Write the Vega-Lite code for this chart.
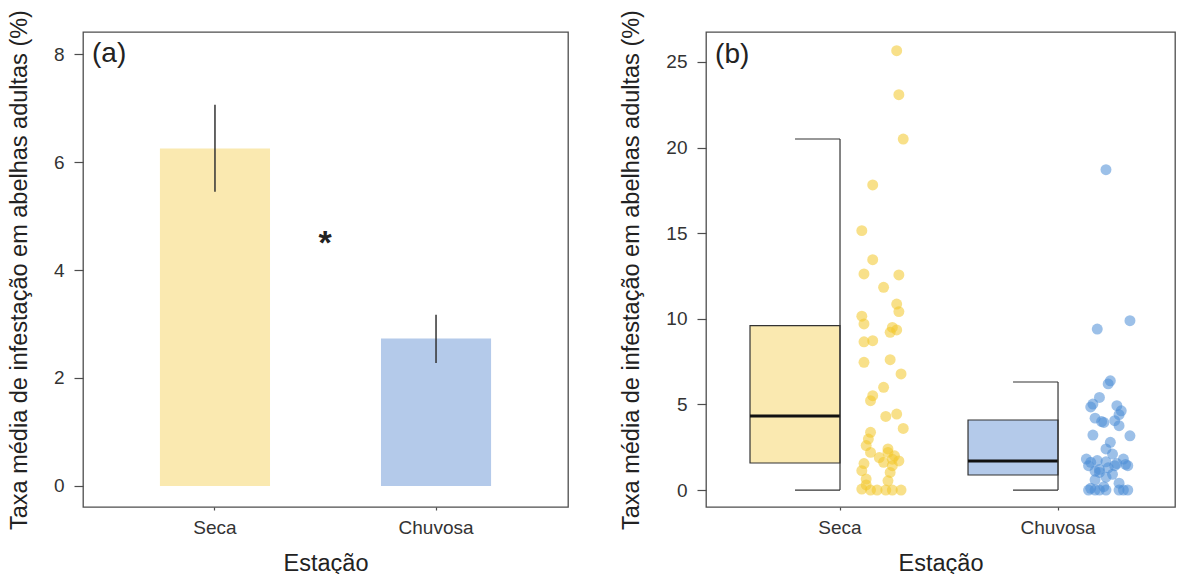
{
  "$schema": "https://vega.github.io/schema/vega-lite/v6.json",
  "background": "white",
  "padding": {"left": 6, "top": 8, "right": 0, "bottom": 0},
  "autosize": {"type": "pad"},
  "config": {
    "font": "Liberation Sans",
    "view": {"stroke": "#4d4d4d", "strokeWidth": 1.3},
    "axis": {"grid": false, "domain": false, "tickColor": "#4d4d4d", "tickWidth": 1.2,
      "labelFont": "Liberation Sans", "labelFontSize": 19, "labelColor": "#333333",
      "titleFont": "Liberation Sans", "titleFontSize": 23.5, "titleFontWeight": "normal", "titleColor": "#222222"},
    "axisY": {"tickSize": 9, "labelPadding": 10, "titlePadding": 22},
    "axisX": {"tickSize": 3, "labelPadding": 8, "titlePadding": 14, "labelAngle": 0},
    "concat": {"spacing": 50}
  },
  "datasets": {
    "medias": [
      {"estacao": "Seca", "media": 6.25, "ep_inf": 5.45, "ep_sup": 7.06},
      {"estacao": "Chuvosa", "media": 2.73, "ep_inf": 2.28, "ep_sup": 3.17}
    ],
    "caixas": [
      {"estacao": "Seca", "inferior": 0, "q1": 1.58, "mediana": 4.32, "q3": 9.6, "superior": 20.5},
      {"estacao": "Chuvosa", "inferior": 0, "q1": 0.88, "mediana": 1.69, "q3": 4.09, "superior": 6.31}
    ],
    "pontos": [
      {"estacao": "Seca", "taxa": 25.66, "jitter": 0.26},
      {"estacao": "Seca", "taxa": 23.09, "jitter": 0.27},
      {"estacao": "Seca", "taxa": 20.5, "jitter": 0.29},
      {"estacao": "Seca", "taxa": 17.82, "jitter": 0.15},
      {"estacao": "Seca", "taxa": 15.15, "jitter": 0.1},
      {"estacao": "Seca", "taxa": 13.45, "jitter": 0.15},
      {"estacao": "Seca", "taxa": 12.62, "jitter": 0.11},
      {"estacao": "Seca", "taxa": 12.56, "jitter": 0.27},
      {"estacao": "Seca", "taxa": 11.84, "jitter": 0.2},
      {"estacao": "Seca", "taxa": 10.86, "jitter": 0.26},
      {"estacao": "Seca", "taxa": 10.42, "jitter": 0.27},
      {"estacao": "Seca", "taxa": 10.15, "jitter": 0.1},
      {"estacao": "Seca", "taxa": 9.7, "jitter": 0.11},
      {"estacao": "Seca", "taxa": 9.5, "jitter": 0.24},
      {"estacao": "Seca", "taxa": 9.35, "jitter": 0.26},
      {"estacao": "Seca", "taxa": 9.21, "jitter": 0.23},
      {"estacao": "Seca", "taxa": 8.72, "jitter": 0.15},
      {"estacao": "Seca", "taxa": 8.66, "jitter": 0.11},
      {"estacao": "Seca", "taxa": 7.61, "jitter": 0.23},
      {"estacao": "Seca", "taxa": 7.46, "jitter": 0.11},
      {"estacao": "Seca", "taxa": 6.78, "jitter": 0.28},
      {"estacao": "Seca", "taxa": 6.0, "jitter": 0.2},
      {"estacao": "Seca", "taxa": 5.51, "jitter": 0.15},
      {"estacao": "Seca", "taxa": 5.22, "jitter": 0.14},
      {"estacao": "Seca", "taxa": 4.44, "jitter": 0.26},
      {"estacao": "Seca", "taxa": 4.3, "jitter": 0.21},
      {"estacao": "Seca", "taxa": 3.6, "jitter": 0.29},
      {"estacao": "Seca", "taxa": 3.37, "jitter": 0.14},
      {"estacao": "Seca", "taxa": 2.98, "jitter": 0.13},
      {"estacao": "Seca", "taxa": 2.6, "jitter": 0.12},
      {"estacao": "Seca", "taxa": 2.4, "jitter": 0.22},
      {"estacao": "Seca", "taxa": 2.2, "jitter": 0.14},
      {"estacao": "Seca", "taxa": 2.2, "jitter": 0.22},
      {"estacao": "Seca", "taxa": 2.0, "jitter": 0.25},
      {"estacao": "Seca", "taxa": 1.9, "jitter": 0.18},
      {"estacao": "Seca", "taxa": 1.8, "jitter": 0.24},
      {"estacao": "Seca", "taxa": 1.7, "jitter": 0.27},
      {"estacao": "Seca", "taxa": 1.62, "jitter": 0.2},
      {"estacao": "Seca", "taxa": 1.55, "jitter": 0.11},
      {"estacao": "Seca", "taxa": 1.42, "jitter": 0.24},
      {"estacao": "Seca", "taxa": 1.13, "jitter": 0.1},
      {"estacao": "Seca", "taxa": 1.03, "jitter": 0.23},
      {"estacao": "Seca", "taxa": 0.64, "jitter": 0.12},
      {"estacao": "Seca", "taxa": 0.54, "jitter": 0.22},
      {"estacao": "Seca", "taxa": 0.3, "jitter": 0.12},
      {"estacao": "Seca", "taxa": 0.06, "jitter": 0.1},
      {"estacao": "Seca", "taxa": 0, "jitter": 0.14},
      {"estacao": "Seca", "taxa": 0, "jitter": 0.17},
      {"estacao": "Seca", "taxa": 0, "jitter": 0.21},
      {"estacao": "Seca", "taxa": 0, "jitter": 0.24},
      {"estacao": "Seca", "taxa": 0, "jitter": 0.28},
      {"estacao": "Chuvosa", "taxa": 18.71, "jitter": 0.22},
      {"estacao": "Chuvosa", "taxa": 9.89, "jitter": 0.33},
      {"estacao": "Chuvosa", "taxa": 9.4, "jitter": 0.18},
      {"estacao": "Chuvosa", "taxa": 6.38, "jitter": 0.24},
      {"estacao": "Chuvosa", "taxa": 6.2, "jitter": 0.23},
      {"estacao": "Chuvosa", "taxa": 5.41, "jitter": 0.19},
      {"estacao": "Chuvosa", "taxa": 5.02, "jitter": 0.16},
      {"estacao": "Chuvosa", "taxa": 4.93, "jitter": 0.27},
      {"estacao": "Chuvosa", "taxa": 4.85, "jitter": 0.15},
      {"estacao": "Chuvosa", "taxa": 4.63, "jitter": 0.29},
      {"estacao": "Chuvosa", "taxa": 4.4, "jitter": 0.28},
      {"estacao": "Chuvosa", "taxa": 4.2, "jitter": 0.17},
      {"estacao": "Chuvosa", "taxa": 4.05, "jitter": 0.26},
      {"estacao": "Chuvosa", "taxa": 4.0, "jitter": 0.2},
      {"estacao": "Chuvosa", "taxa": 3.95, "jitter": 0.21},
      {"estacao": "Chuvosa", "taxa": 3.76, "jitter": 0.28},
      {"estacao": "Chuvosa", "taxa": 3.21, "jitter": 0.16},
      {"estacao": "Chuvosa", "taxa": 3.17, "jitter": 0.33},
      {"estacao": "Chuvosa", "taxa": 2.79, "jitter": 0.24},
      {"estacao": "Chuvosa", "taxa": 2.4, "jitter": 0.22},
      {"estacao": "Chuvosa", "taxa": 2.1, "jitter": 0.25},
      {"estacao": "Chuvosa", "taxa": 1.81, "jitter": 0.13},
      {"estacao": "Chuvosa", "taxa": 1.81, "jitter": 0.3},
      {"estacao": "Chuvosa", "taxa": 1.72, "jitter": 0.18},
      {"estacao": "Chuvosa", "taxa": 1.65, "jitter": 0.22},
      {"estacao": "Chuvosa", "taxa": 1.62, "jitter": 0.15},
      {"estacao": "Chuvosa", "taxa": 1.55, "jitter": 0.27},
      {"estacao": "Chuvosa", "taxa": 1.5, "jitter": 0.31},
      {"estacao": "Chuvosa", "taxa": 1.42, "jitter": 0.14},
      {"estacao": "Chuvosa", "taxa": 1.42, "jitter": 0.26},
      {"estacao": "Chuvosa", "taxa": 1.42, "jitter": 0.32},
      {"estacao": "Chuvosa", "taxa": 1.3, "jitter": 0.23},
      {"estacao": "Chuvosa", "taxa": 1.2, "jitter": 0.19},
      {"estacao": "Chuvosa", "taxa": 1.1, "jitter": 0.17},
      {"estacao": "Chuvosa", "taxa": 1.03, "jitter": 0.19},
      {"estacao": "Chuvosa", "taxa": 0.92, "jitter": 0.25},
      {"estacao": "Chuvosa", "taxa": 0.75, "jitter": 0.22},
      {"estacao": "Chuvosa", "taxa": 0.6, "jitter": 0.17},
      {"estacao": "Chuvosa", "taxa": 0.4, "jitter": 0.28},
      {"estacao": "Chuvosa", "taxa": 0.2, "jitter": 0.21},
      {"estacao": "Chuvosa", "taxa": 0.1, "jitter": 0.15},
      {"estacao": "Chuvosa", "taxa": 0, "jitter": 0.14},
      {"estacao": "Chuvosa", "taxa": 0, "jitter": 0.17},
      {"estacao": "Chuvosa", "taxa": 0, "jitter": 0.19},
      {"estacao": "Chuvosa", "taxa": 0, "jitter": 0.22},
      {"estacao": "Chuvosa", "taxa": 0, "jitter": 0.28},
      {"estacao": "Chuvosa", "taxa": 0, "jitter": 0.3},
      {"estacao": "Chuvosa", "taxa": 0, "jitter": 0.32}
    ]
  },
  "hconcat": [
    {
      "width": 485,
      "height": 475,
      "encoding": {
        "x": {"field": "estacao", "type": "nominal", "title": "Estação",
          "scale": {"type": "band", "domain": ["Seca", "Chuvosa"], "paddingInner": 0.502, "paddingOuter": 0.348}}
      },
      "layer": [
        {
          "data": {"name": "medias"},
          "mark": {"type": "rect"},
          "encoding": {
            "x": {"field": "estacao", "type": "nominal", "bandPosition": 0},
            "x2": {"field": "estacao", "bandPosition": 1},
            "y": {"field": "media", "type": "quantitative", "title": "Taxa média de infestação em abelhas adultas (%)",
              "scale": {"domain": [-0.39, 8.41], "nice": false, "zero": false},
              "axis": {"values": [0, 2, 4, 6, 8]}},
            "y2": {"datum": 0},
            "fill": {"field": "estacao", "type": "nominal", "legend": null,
              "scale": {"domain": ["Seca", "Chuvosa"], "range": ["#FAE9B0", "#B4CAEA"]}}
          }
        },
        {
          "data": {"name": "medias"},
          "mark": {"type": "rule", "stroke": "#333333", "strokeWidth": 1.5},
          "encoding": {
            "y": {"field": "ep_inf", "type": "quantitative"},
            "y2": {"field": "ep_sup"}
          }
        },
        {
          "data": {"values": [{"rotulo": "*", "posicao_y": 4.56}]},
          "mark": {"type": "text", "fontSize": 34, "fontWeight": "bold", "color": "#222222", "baseline": "middle", "align": "center", "dy": 4},
          "encoding": {
            "x": {"datum": "Seca", "bandPosition": 1.5},
            "y": {"field": "posicao_y", "type": "quantitative"},
            "text": {"field": "rotulo"}
          }
        },
        {
          "data": {"values": [{"rotulo": "(a)", "posicao_y": 8}]},
          "mark": {"type": "text", "fontSize": 28, "color": "#222222", "baseline": "middle", "align": "left"},
          "encoding": {
            "x": {"datum": "Seca", "bandPosition": -0.617},
            "y": {"field": "posicao_y", "type": "quantitative"},
            "text": {"field": "rotulo"}
          }
        }
      ]
    },
    {
      "width": 469,
      "height": 475,
      "encoding": {
        "x": {"field": "estacao", "type": "nominal", "title": "Estação",
          "scale": {"type": "band", "domain": ["Seca", "Chuvosa"], "paddingInner": 0.1743, "paddingOuter": 0.1628, "align": 0.62}}
      },
      "layer": [
        {
          "data": {"name": "caixas"},
          "mark": {"type": "rect", "stroke": "#333333", "strokeWidth": 1.2},
          "encoding": {
            "x": {"field": "estacao", "type": "nominal", "bandPosition": 0},
            "x2": {"field": "estacao", "bandPosition": 0.5},
            "y": {"field": "q1", "type": "quantitative", "title": "Taxa média de infestação em abelhas adultas (%)",
              "scale": {"domain": [-0.99, 26.75], "nice": false, "zero": false},
              "axis": {"values": [0, 5, 10, 15, 20, 25]}},
            "y2": {"field": "q3"},
            "fill": {"field": "estacao", "type": "nominal", "legend": null,
              "scale": {"domain": ["Seca", "Chuvosa"], "range": ["#FAE9B0", "#B4CAEA"]}}
          }
        },
        {
          "data": {"name": "caixas"},
          "mark": {"type": "rule", "stroke": "#111111", "strokeWidth": 3},
          "encoding": {
            "x": {"field": "estacao", "type": "nominal", "bandPosition": 0},
            "x2": {"field": "estacao", "bandPosition": 0.5},
            "y": {"field": "mediana", "type": "quantitative"}
          }
        },
        {
          "data": {"name": "caixas"},
          "mark": {"type": "rule", "stroke": "#333333", "strokeWidth": 1.2},
          "encoding": {
            "x": {"field": "estacao", "type": "nominal", "bandPosition": 0.5},
            "y": {"field": "inferior", "type": "quantitative"},
            "y2": {"field": "superior"}
          }
        },
        {
          "data": {"name": "caixas"},
          "mark": {"type": "rule", "stroke": "#333333", "strokeWidth": 1.2},
          "encoding": {
            "x": {"field": "estacao", "type": "nominal", "bandPosition": 0.25},
            "x2": {"field": "estacao", "bandPosition": 0.5},
            "y": {"field": "superior", "type": "quantitative"}
          }
        },
        {
          "data": {"name": "caixas"},
          "mark": {"type": "rule", "stroke": "#333333", "strokeWidth": 1.2},
          "encoding": {
            "x": {"field": "estacao", "type": "nominal", "bandPosition": 0.25},
            "x2": {"field": "estacao", "bandPosition": 0.5},
            "y": {"field": "inferior", "type": "quantitative"}
          }
        },
        {
          "data": {"name": "pontos"},
          "mark": {"type": "circle", "size": 120, "opacity": 0.55},
          "encoding": {
            "x": {"field": "estacao", "type": "nominal", "bandPosition": 0},
            "xOffset": {"field": "jitter", "type": "quantitative", "scale": {"domain": [0, 1], "range": [90, 308]}},
            "y": {"field": "taxa", "type": "quantitative"},
            "color": {"field": "estacao", "type": "nominal", "legend": null,
              "scale": {"domain": ["Seca", "Chuvosa"], "range": ["#F3C728", "#4A8CD6"]}}
          }
        },
        {
          "data": {"values": [{"rotulo": "(b)", "posicao_y": 25.4}]},
          "mark": {"type": "text", "fontSize": 28, "color": "#222222", "baseline": "middle", "align": "left"},
          "encoding": {
            "x": {"datum": "Seca", "bandPosition": -0.194},
            "y": {"field": "posicao_y", "type": "quantitative"},
            "text": {"field": "rotulo"}
          }
        }
      ]
    }
  ]
}
